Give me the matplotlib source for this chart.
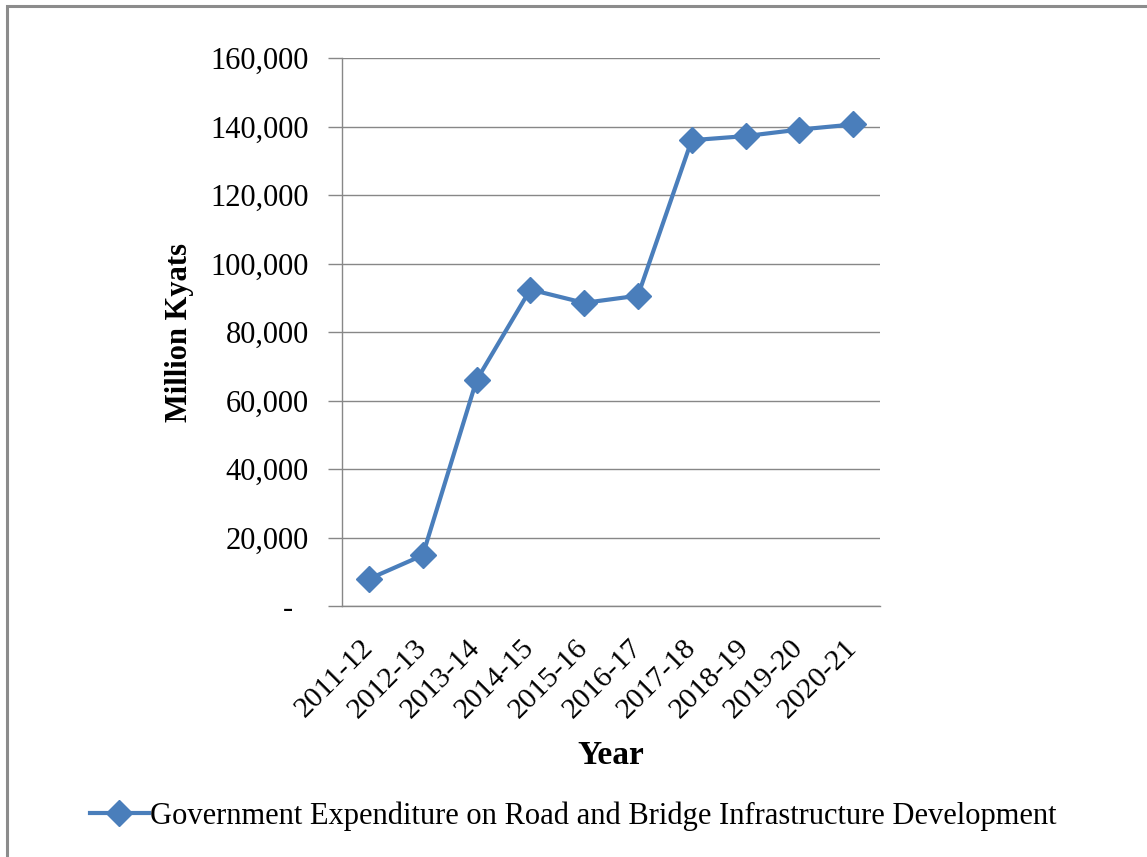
import matplotlib.pyplot as plt
from matplotlib.ticker import FuncFormatter
from matplotlib.patches import Rectangle
from matplotlib.transforms import ScaledTranslation

plt.rcParams['font.family'] = ['Liberation Serif', 'DejaVu Serif']

years = ['2011-12', '2012-13', '2013-14', '2014-15', '2015-16',
         '2016-17', '2017-18', '2018-19', '2019-20', '2020-21']
spending = [7900, 14800, 65900, 92400, 88500,
            90600, 136000, 137200, 139100, 140600]
y_ticks = [0, 20000, 40000, 60000, 80000, 100000, 120000, 140000, 160000]

blue = '#4A7EBB'
grey = '#878787'

fig = plt.figure(figsize=(11.47, 8.57), dpi=100)
ax = fig.add_axes([342 / 1147, 1 - 606 / 857, (880 - 342) / 1147, (606 - 58) / 857])

x = list(range(len(years)))
ax.plot(x, spending, color=blue, linewidth=3, marker='D', markersize=13,
        label='Government Expenditure on Road and Bridge Infrastructure Development')

ax.set_xlim(-0.5, len(years) - 0.5)
ax.set_ylim(0, 160000)
ax.set_yticks(y_ticks)
ax.yaxis.set_major_formatter(FuncFormatter(lambda v, p: '-  ' if v == 0 else f'{int(v):,}'))
ax.set_xticks(x)
ax.set_xticklabels(years, rotation=45, ha='right', va='center', rotation_mode='anchor')
# nudge the slanted year labels a little to the left
shift = ScaledTranslation(-6 / 100, 0, fig.dpi_scale_trans)
for lbl in ax.get_xticklabels():
    lbl.set_transform(lbl.get_transform() + shift)

ax.grid(axis='y', color=grey, linewidth=1.0)
ax.set_axisbelow(True)
for side in ['top', 'right']:
    ax.spines[side].set_visible(False)
for side in ['left', 'bottom']:
    ax.spines[side].set_color(grey)
    ax.spines[side].set_linewidth(1.0)
ax.tick_params(axis='y', length=10, width=1.0, color=grey, labelsize=22, pad=14)
ax.tick_params(axis='x', length=0, labelsize=21.5, pad=27)

ax.set_xlabel('Year', fontsize=24, fontweight='bold', labelpad=12)
ax.set_ylabel('Million Kyats', fontsize=22, fontweight='bold', labelpad=12)

fig.legend(loc='center', bbox_to_anchor=(0.5, 1 - 816 / 857), frameon=False,
           fontsize=22, handlelength=1.9, handletextpad=0.05)

# chart frame, only top and left edges fall inside the image
fig.patches.append(Rectangle((7 / 1147, -0.1), 1.2, 1 - 6 / 857 + 0.1, transform=fig.transFigure,
                             fill=False, edgecolor='#8C8C8C', linewidth=2.2))

fig.savefig('out.png', dpi=100)
